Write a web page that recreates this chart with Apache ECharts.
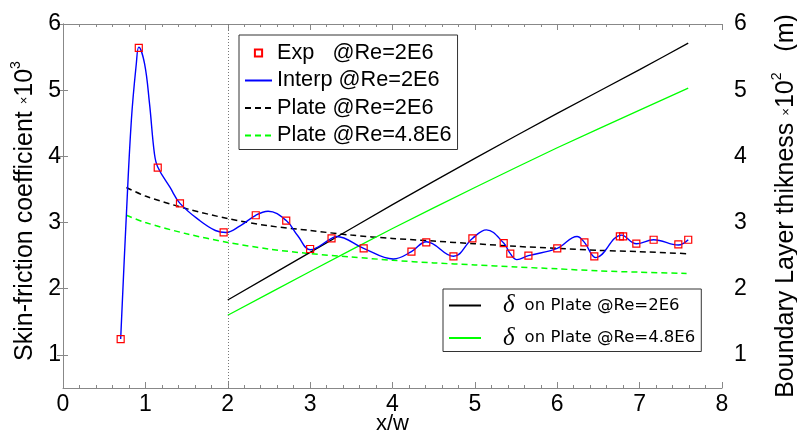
<!DOCTYPE html>
<html><head><meta charset="utf-8">
<script src="https://cdn.jsdelivr.net/npm/echarts@6/dist/echarts.min.js"></script>
<style>html,body{margin:0;padding:0;background:#fff}#c{width:797px;height:434px}</style>
</head><body><div id="c"></div>
<script>
// ---- data ----
const expX = [0.70,0.92,1.15,1.42,1.95,2.34,2.71,3.00,3.26,3.65,4.23,4.41,4.74,4.97,5.35,5.43,5.65,6.00,6.33,6.45,6.76,6.80,6.96,7.17,7.47,7.59];
const expY = [1.24,5.64,3.83,3.29,2.85,3.11,3.03,2.60,2.76,2.61,2.56,2.70,2.49,2.76,2.69,2.53,2.50,2.61,2.70,2.49,2.79,2.79,2.68,2.74,2.67,2.74];
const interpX = [0.70,0.766,0.83,0.89,0.92,0.99,1.05,1.11,1.15,1.30,1.42,1.66,1.85,1.98,2.15,2.34,2.49,2.71,2.85,3.00,3.26,3.32,3.65,4.01,4.23,4.41,4.74,4.97,5.14,5.35,5.43,5.51,5.65,6.00,6.24,6.33,6.47,6.78,6.96,7.17,7.47,7.59];
const interpY = [1.24,3.03,4.55,5.40,5.65,5.40,4.80,4.04,3.84,3.53,3.29,3.03,2.88,2.85,2.95,3.11,3.17,3.03,2.80,2.59,2.76,2.79,2.61,2.45,2.56,2.71,2.49,2.76,2.89,2.69,2.53,2.44,2.50,2.61,2.79,2.70,2.47,2.81,2.68,2.74,2.66,2.74];
const plateX = [0.77,1.0,1.5,2.0,2.5,3.0,3.5,4.0,4.5,5.0,5.5,6.0,6.5,7.0,7.57];
const plateRe2E6 = [3.53,3.40,3.21,3.06,2.95,2.88,2.81,2.76,2.72,2.68,2.64,2.61,2.58,2.56,2.53];
const plateRe48E6 = [3.11,3.00,2.83,2.70,2.60,2.53,2.48,2.43,2.39,2.36,2.33,2.30,2.27,2.25,2.23];
const deltaX = [2.0,3.0,4.0,5.0,6.0,7.0,7.59];
const deltaRe2E6 = [1.83,2.55,3.27,3.97,4.65,5.31,5.71];
const deltaRe48E6 = [1.60,2.26,2.91,3.53,4.13,4.70,5.03];
const yTicks = [1,2,3,4,5,6];
const names = ['Exp   @Re=2E6','Interp @Re=2E6','Plate @Re=2E6','Plate @Re=4.8E6','δ on Plate @Re=2E6','δ on Plate @Re=4.8E6'];

const pairs = (xs, ys) => xs.map((x, i) => [x, ys[i]]);
const FONT = 'Liberation Sans, Arial, sans-serif';
const AX = '#888';

const chart = echarts.init(document.getElementById('c'), null, {renderer: 'canvas'});
const nameRich = {
  x: {fontFamily: FONT, fontSize: 13, color: '#000'},
  n: {fontFamily: FONT, fontSize: 25, color: '#000'},
  s: {fontFamily: FONT, fontSize: 14, color: '#000', padding: [0, 0, 18, 0]}
};
const yAxisBase = {
  type: 'value', min: 0.5, max: 6,
  splitLine: {show: false},
  axisLine: {show: true, lineStyle: {color: AX, width: 1}},
  axisTick: {show: true, inside: true, length: 5, customValues: yTicks, lineStyle: {color: AX}},
  axisLabel: {customValues: yTicks, color: '#000', fontFamily: FONT, fontSize: 23},
  nameLocation: 'middle', nameRotate: 90
};
const option = {
  animation: false,
  backgroundColor: '#fff',
  grid: {left: 63, right: 75, top: 24, bottom: 46, containLabel: false, outerBoundsMode: 'none'},
  xAxis: [{
    type: 'value', min: 0, max: 8, interval: 1, position: 'bottom',
    splitLine: {show: false},
    axisLine: {onZero: false, lineStyle: {color: AX}},
    axisTick: {inside: true, length: 6, lineStyle: {color: AX}},
    minorTick: {show: true, splitNumber: 5, length: 3, lineStyle: {color: AX}},
    axisLabel: {color: '#000', fontFamily: FONT, fontSize: 23, margin: 5},
    name: 'x/w', nameLocation: 'middle', nameGap: 25, nameMoveOverlap: false,
    nameTextStyle: {color: '#000', fontFamily: FONT, fontSize: 22}
  }, {
    type: 'value', min: 0, max: 8, interval: 1, position: 'top',
    splitLine: {show: false},
    axisLine: {onZero: false, lineStyle: {color: AX}},
    axisTick: {inside: true, length: 6, lineStyle: {color: AX}},
    minorTick: {show: true, splitNumber: 5, length: 3, lineStyle: {color: AX}},
    axisLabel: {show: false}
  }],
  yAxis: [Object.assign({}, yAxisBase, {
    position: 'left',
    axisLabel: Object.assign({}, yAxisBase.axisLabel, {margin: 2}),
    name: 'Skin-friction coefficient {x|×}{n|10}{s|3}', nameGap: 16,
    nameTextStyle: {color: '#000', fontFamily: FONT, fontSize: 25, padding: [0, 10, 0, 0], rich: nameRich}
  }), Object.assign({}, yAxisBase, {
    position: 'right',
    axisTick: Object.assign({}, yAxisBase.axisTick, {length: 6}),
    axisLabel: Object.assign({}, yAxisBase.axisLabel, {margin: 12}),
    name: 'Boundary Layer thikness {x|×}{n|10}{s|2}   (m)', nameGap: 48,
    nameTextStyle: {color: '#000', fontFamily: FONT, fontSize: 25, rich: nameRich}
  })],
  legend: [{
    orient: 'vertical', left: 239, top: 35,
    padding: [7, 6, 3, 5], itemGap: 5.5, itemWidth: 27, itemHeight: 9,
    borderColor: '#333', borderWidth: 1, backgroundColor: '#fff',
    textStyle: {color: '#000', fontFamily: FONT, fontSize: 21.7},
    data: [
      {name: names[0]},
      {name: names[1], itemStyle: {opacity: 0}},
      {name: names[2], itemStyle: {opacity: 0}},
      {name: names[3], itemStyle: {opacity: 0}}
    ]
  }, {
    orient: 'vertical', left: 443, top: 289,
    padding: [4, 6, 1, 5], itemGap: 7.5, itemWidth: 32, itemHeight: 10,
    borderColor: '#333', borderWidth: 1, backgroundColor: '#fff',
    textStyle: {color: '#000', fontFamily: 'DejaVu Sans, sans-serif', fontSize: 16.5,
      rich: {
        d: {fontFamily: 'Liberation Serif, serif', fontStyle: 'italic', fontSize: 25, color: '#000', padding: [0, 10, 0, 17]},
        t: {fontFamily: 'DejaVu Sans, sans-serif', fontSize: 16.5, color: '#000'}
      }},
    formatter: n => '{d|δ}{t|' + n.replace('δ ', '') + '}',
    data: [
      {name: names[4], itemStyle: {opacity: 0}},
      {name: names[5], itemStyle: {opacity: 0}}
    ]
  }],
  series: [
    {
      name: names[2], type: 'line', xAxisIndex: 0, yAxisIndex: 0,
      data: pairs(plateX, plateRe2E6), smooth: 0.3, showSymbol: false, symbol: 'none',
      lineStyle: {color: '#000', width: 1.5, type: [6, 4]}, itemStyle: {color: '#000'}, z: 2,
      markLine: {silent: true, symbol: 'none', label: {show: false},
        lineStyle: {color: '#777', width: 1, type: [1, 2]}, data: [{xAxis: 2}]}
    },
    {
      name: names[3], type: 'line', xAxisIndex: 0, yAxisIndex: 0,
      data: pairs(plateX, plateRe48E6), smooth: 0.3, showSymbol: false, symbol: 'none',
      lineStyle: {color: '#00ff00', width: 1.5, type: [6, 4]}, itemStyle: {color: '#00ff00'}, z: 2
    },
    {
      name: names[4], type: 'line', xAxisIndex: 0, yAxisIndex: 1,
      data: pairs(deltaX, deltaRe2E6), smooth: 0.2, showSymbol: false, symbol: 'none',
      lineStyle: {color: '#000', width: 1.3}, itemStyle: {color: '#000'}, z: 2
    },
    {
      name: names[5], type: 'line', xAxisIndex: 0, yAxisIndex: 1,
      data: pairs(deltaX, deltaRe48E6), smooth: 0.2, showSymbol: false, symbol: 'none',
      lineStyle: {color: '#00ff00', width: 1.3}, itemStyle: {color: '#00ff00'}, z: 2
    },
    {
      name: names[1], type: 'line', xAxisIndex: 0, yAxisIndex: 0,
      data: pairs(interpX, interpY), smooth: 0.4, showSymbol: false, symbol: 'none',
      lineStyle: {color: '#0000ff', width: 1.4}, itemStyle: {color: '#0000ff'}, z: 3
    },
    {
      name: names[0], type: 'line', xAxisIndex: 0, yAxisIndex: 0,
      data: pairs(expX, expY), symbol: 'rect', symbolSize: 7, showSymbol: true,
      lineStyle: {width: 0, opacity: 0},
      itemStyle: {color: 'rgba(255,255,255,0)', borderColor: '#ff0000', borderWidth: 1.2}, z: 4
    }
  ]
};
chart.setOption(option);
</script>
</body></html>
